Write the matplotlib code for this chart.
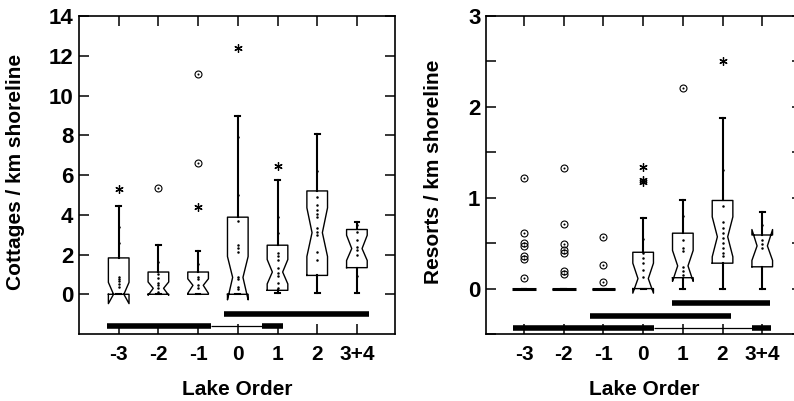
import matplotlib
matplotlib.use('Agg')
import matplotlib.pyplot as plt
from matplotlib.ticker import MultipleLocator

plt.rcParams['font.family'] = ['Liberation Sans', 'DejaVu Sans']
plt.rcParams['font.weight'] = 'bold'

orders = ['-3', '-2', '-1', '0', '1', '2', '3+4']

# cottages per km shoreline, box summaries
cot_q1 = [0.0, 0.0, 0.0, 0.0, 0.2, 0.95, 1.34]
cot_med = [0.0, 0.3, 0.45, 0.85, 1.12, 3.1, 2.3]
cot_q3 = [1.83, 1.12, 1.12, 3.88, 2.47, 5.2, 3.26]
cot_cilo = [-0.47, -0.05, 0.05, -0.28, 0.52, 1.9, 1.7]
cot_cihi = [0.6, 0.62, 0.78, 1.9, 1.75, 4.35, 2.97]
cot_lo = [0.0, 0.0, 0.0, 0.0, 0.05, 0.05, 0.07]
cot_hi = [4.42, 2.5, 2.2, 8.98, 5.74, 8.04, 3.65]
cot_circ = [[], [5.35], [11.1, 6.63], [], [], [], []]
cot_star = [[5.3], [], [4.37], [12.37], [6.46], [], []]
cot_pts = [[0.85, 0.75, 0.65, 0.5, 0.35, 2.6, 3.4],
           [1.0, 0.8, 0.55, 0.45, 0.3, 0.1, 1.6],
           [0.85, 0.75, 0.45, 0.3, 1.5],
           [3.7, 2.5, 2.35, 2.15, 0.85, 0.75, 0.35, 0.25, 5.0, 7.9],
           [2.1, 1.95, 1.7, 1.3, 1.05, 0.9, 0.55, 0.3, 3.9, 3.1],
           [4.9, 4.48, 4.23, 4.06, 3.9, 3.31, 3.14, 2.97, 2.13, 1.75, 6.2],
           [3.5, 3.14, 2.72, 2.38, 2.22, 1.96, 0.9]]

# resorts per km shoreline
res_q1 = [0.0, 0.0, 0.0, 0.0, 0.12, 0.28, 0.24]
res_med = [0.0, 0.0, 0.0, 0.11, 0.25, 0.57, 0.47]
res_q3 = [0.0, 0.0, 0.0, 0.40, 0.61, 0.97, 0.59]
res_cilo = [0.0, 0.0, 0.0, -0.05, 0.08, 0.35, 0.31]
res_cihi = [0.0, 0.0, 0.0, 0.28, 0.42, 0.79, 0.65]
res_lo = [0.0, 0.0, 0.0, 0.0, 0.0, 0.0, 0.0]
res_hi = [0.0, 0.0, 0.0, 0.78, 0.97, 1.88, 0.84]
res_circ = [[1.22, 0.61, 0.50, 0.47, 0.36, 0.33, 0.12],
            [1.33, 0.71, 0.49, 0.43, 0.39, 0.19, 0.16],
            [0.57, 0.26, 0.07], [], [2.21], [], []]
res_star = [[], [], [], [1.34, 1.2, 1.17], [], [2.5], []]
res_pts = [[], [], [],
           [0.39, 0.34, 0.28, 0.2, 0.13, 0.55],
           [0.54, 0.45, 0.41, 0.24, 0.19, 0.15, 0.8],
           [0.91, 0.73, 0.67, 0.61, 0.56, 0.5, 0.45, 0.39, 0.36, 1.3],
           [0.54, 0.49, 0.45, 0.7]]

# homogeneous subsets: (y, start, end, thick)
cot_bars = [(-1.6, 0.70, 3.32, True), (-1.6, 3.32, 4.61, False),
            (-1.6, 4.61, 5.14, True), (-1.0, 3.65, 7.30, True)]
res_bars = [(-0.16, 4.72, 7.20, True), (-0.30, 2.66, 6.22, True),
            (-0.43, 0.72, 4.27, True), (-0.43, 4.27, 6.74, False),
            (-0.43, 6.74, 7.22, True)]


def panel(ax, q1, med, q3, cilo, cihi, lo, hi, circ, star, pts, bars):
    pos = list(range(1, len(orders) + 1))
    stats = []
    for i in range(len(orders)):
        stats.append(dict(med=med[i], q1=q1[i], q3=q3[i], whislo=lo[i],
                          whishi=hi[i], cilo=cilo[i], cihi=cihi[i], fliers=[]))
    art = ax.bxp(stats, positions=pos, widths=0.52, shownotches=True,
                 showfliers=False, capwidths=0.12,
                 boxprops=dict(color='black', linewidth=1.0),
                 whiskerprops=dict(color='black', linewidth=1.5),
                 capprops=dict(color='black', linewidth=1.5),
                 medianprops=dict(color='black', linewidth=0))
    for i, m in enumerate(art['medians']):
        if q1[i] == q3[i]:
            m.set_linewidth(2.2)
            m.set_xdata([pos[i] - 0.3, pos[i] + 0.3])
    for i in range(len(orders)):
        x = pos[i]
        if pts[i]:
            ax.plot([x] * len(pts[i]), pts[i], 'o', color='black', ms=1.8, mew=0)
        if circ[i]:
            ax.plot([x] * len(circ[i]), circ[i], 'o', mfc='none', mec='black',
                    ms=5, mew=0.8)
            ax.plot([x] * len(circ[i]), circ[i], 'o', color='black', ms=1.5, mew=0)
        if star[i]:
            ax.plot([x] * len(star[i]), star[i], marker=(6, 2, 0), ls='none',
                    color='black', ms=6, mew=0.9)
    for y, a, b, thick in bars:
        ax.plot([a, b], [y, y], color='black', lw=4.0 if thick else 0.9,
                solid_capstyle='butt')
    ax.set_xlim(0, 7.96)
    ax.set_xticks(pos)
    ax.set_xticklabels(orders)
    ax.tick_params(axis='x', which='both', direction='in', top=True, length=7,
                   width=1.1, pad=8, labelsize=15)
    ax.tick_params(axis='y', which='both', direction='in', right=True, width=1.1,
                   pad=4, labelsize=16)
    ax.tick_params(axis='y', which='major', length=7)
    ax.tick_params(axis='y', which='minor', length=7)
    for s in ax.spines.values():
        s.set_linewidth(1.2)
    ax.set_xlabel('Lake Order', fontsize=15, fontweight='bold')


fig = plt.figure(figsize=(7.94, 4.01), dpi=100)
ax1 = fig.add_axes([0.0995, 0.167, 0.398, 0.793])
ax2 = fig.add_axes([0.612, 0.167, 0.398, 0.793])

panel(ax1, cot_q1, cot_med, cot_q3, cot_cilo, cot_cihi, cot_lo, cot_hi,
      cot_circ, cot_star, cot_pts, cot_bars)
ax1.set_ylim(-2, 14)
ax1.set_yticks(range(0, 15, 2))
ax1.set_ylabel('Cottages / km shoreline', fontsize=15, fontweight='bold')
ax1.yaxis.set_label_coords(-0.17, 0.51)
ax1.xaxis.set_label_coords(0.5, -0.145)

panel(ax2, res_q1, res_med, res_q3, res_cilo, res_cihi, res_lo, res_hi,
      res_circ, res_star, res_pts, res_bars)
ax2.set_xlim(0.04, 8.0)
ax2.set_ylim(-0.5, 3)
ax2.set_yticks([0, 1, 2, 3])
ax2.yaxis.set_minor_locator(MultipleLocator(0.5))
ax2.set_ylabel('Resorts / km shoreline', fontsize=15, fontweight='bold')
ax2.yaxis.set_label_coords(-0.136, 0.51)
ax2.xaxis.set_label_coords(0.5, -0.145)

for ax in (ax1, ax2):
    for lab in ax.get_xticklabels() + ax.get_yticklabels():
        lab.set_fontweight('bold')

fig.savefig('out.png', dpi=100)
